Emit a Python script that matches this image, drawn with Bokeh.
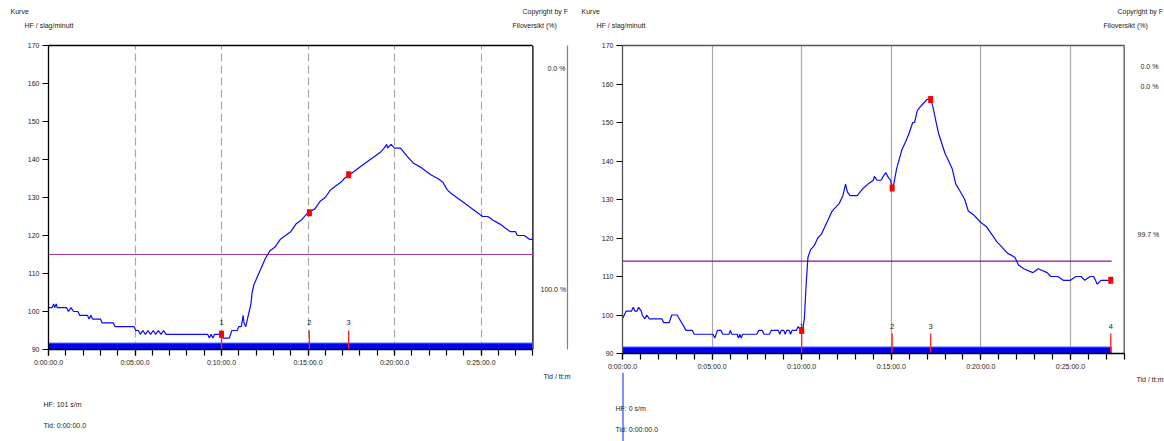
from bokeh.plotting import figure
from bokeh.models import Range1d, FixedTicker, LinearAxis, ColumnDataSource
from bokeh.layouts import row, column
from bokeh.core.properties import value
from bokeh.embed import file_html
from bokeh.resources import INLINE

# ---------------- data ----------------
left_t = [0.0, 0.2, 0.3, 0.35, 0.45, 0.5, 1.05, 1.15, 1.3, 1.45, 1.7, 1.8, 2.25, 2.35, 2.45, 2.55,
          3.0, 3.1, 3.75, 3.85, 4.95, 5.05, 5.2, 5.3, 5.45, 5.6, 5.75, 5.9, 6.05, 6.2, 6.35, 6.5,
          6.65, 6.8, 7.0, 9.2, 9.3, 9.4, 9.5, 9.6, 9.95, 10.1, 10.45, 10.6, 10.9, 11.0, 11.15,
          11.25, 11.3, 11.4, 11.5, 11.6, 11.7, 11.77, 11.87, 12.06, 12.25, 12.54, 12.8, 13.1,
          13.4, 13.7, 14.0, 14.3, 14.6, 15.0, 15.4, 15.7, 16.0, 16.3, 16.6, 16.9, 17.1, 17.4,
          17.7, 18.0, 18.3, 18.6, 18.9, 19.2, 19.4, 19.55, 19.6, 19.8, 20.0, 20.35, 20.7, 21.1,
          21.5, 21.8, 22.1, 22.5, 22.8, 23.05, 23.3, 23.6, 23.9, 24.2, 24.5, 24.8, 25.1, 25.4,
          25.7, 26.1, 26.4, 26.7, 27.0, 27.1, 27.5, 27.8, 28.0]
left_hr = [101, 101, 102, 101, 102, 101, 101, 100, 101, 100, 100, 99, 99, 98, 99, 98,
           98, 97, 97, 96, 96, 95, 95, 94, 95, 94, 95, 94, 95, 94, 95, 94,
           95, 94, 94, 94, 93, 94, 93, 94, 94, 93, 93, 95, 95, 96, 96,
           99, 97, 96, 98, 100, 102, 105, 107, 109, 111, 114, 116, 117,
           119, 120, 121, 123, 124, 126, 127, 129, 130, 132, 133, 134, 135, 136,
           137, 138, 139, 140, 141, 142, 143, 144, 143, 144, 143, 143, 141, 139,
           138, 137, 136, 135, 134, 132, 131, 130, 129, 128, 127, 126, 125, 125,
           124, 123, 122, 121, 121, 120, 120, 119, 119]
left_marker_t = [10.0, 15.08, 17.35]
left_marker_hr = [94, 126, 136]
left_marker_lbl = ["1", "2", "3"]
left_limit = [115]
left_end = [28.0]
left_zone_text = ["0.0 %", "100.0 %"]
left_hf_text = "HF: 101 s/m"

right_t = [0.0, 0.1, 0.2, 0.5, 0.6, 0.7, 0.8, 0.9, 1.05, 1.1, 1.25, 1.35, 1.5, 2.2, 2.3, 2.6,
           2.75, 3.05, 3.3, 3.55, 3.9, 4.0, 5.05, 5.15, 5.3, 5.5, 5.6, 5.95, 6.02, 6.1, 6.4,
           6.47, 6.55, 6.62, 6.7, 7.5, 7.6, 7.8, 7.9, 8.2, 8.3, 8.7, 8.78, 8.86, 9.0, 9.08,
           9.16, 9.3, 9.38, 9.46, 9.7, 9.8, 9.95, 10.05, 10.15, 10.25, 10.35, 10.5, 10.7, 10.9,
           11.1, 11.3, 11.5, 11.7, 11.9, 12.1, 12.3, 12.45, 12.55, 12.7, 13.0, 13.1, 13.45,
           13.7, 14.0, 14.06, 14.2, 14.43, 14.55, 14.7, 14.8, 14.96, 15.05, 15.14, 15.3, 15.6,
           15.8, 15.98, 16.2, 16.3, 16.45, 16.6, 16.8, 17.0, 17.2, 17.33, 17.46, 17.65, 18.0,
           18.4, 18.6, 18.86, 19.1, 19.3, 19.6, 19.8, 20.0, 20.3, 20.6, 20.9, 21.1, 21.5, 21.9,
           22.1, 22.4, 22.9, 23.2, 23.7, 23.9, 24.3, 24.6, 25.0, 25.3, 25.6, 25.8, 26.1, 26.3,
           26.5, 26.7, 27.0, 27.2]
right_hr = [99, 100, 101, 101, 102, 101, 101, 102, 101, 100, 99, 100, 99, 99, 98, 98,
            100, 100, 98, 96, 96, 95, 95, 94, 96, 96, 95, 95, 96, 95, 95,
            94, 95, 94, 95, 95, 96, 96, 95, 95, 96, 96, 95, 96, 96, 95,
            96, 96, 95, 96, 96, 97, 96, 96, 99, 108, 115, 117, 118, 120,
            121, 123, 125, 127, 128, 129, 131, 134, 132, 131, 131, 131, 133,
            134, 135, 136, 135, 135, 136, 137, 136, 135, 133, 134, 138, 143,
            145, 147, 150, 150, 153, 154, 155, 156, 156, 154, 151, 147, 142,
            138, 134, 132, 130, 127, 126, 125, 124, 123, 121, 119, 118, 116, 115,
            113, 112, 111, 112, 111, 110, 110, 109, 109, 110, 110, 109, 110, 110,
            108, 109, 109, 109]
right_marker_t = [10.0, 15.05, 17.2, 27.25]
right_marker_hr = [96, 133, 156, 109]
right_marker_lbl = ["1", "2", "3", "4"]
right_limit = [114]
right_end = [27.3]
right_zone_text = ["0.0 %", "0.0 %", "99.7 %"]
right_hf_text = "HF: 0 s/m"

y_ticks = [90, 100, 110, 120, 130, 140, 150, 160, 170]
x_ticks = [0, 5, 10, 15, 20, 25]
x_tick_labels = ["0:00:00.0", "0:05:00.0", "0:10:00.0", "0:15:00.0", "0:20:00.0", "0:25:00.0"]
x_minor_ticks = list(range(0, 29))
grid_ticks = [5, 10, 15, 20, 25]
axis_end = 28

FONT = "Liberation Sans"
TXT = "#222222"
W, H = 1164, 441
HEADER_H = 38
MAIN_END = 372


def text_strip(y_top, y_bottom, texts, extra_lines=()):
    """Full-width strip in page-pixel coordinates holding the texts around the charts."""
    h = y_bottom - y_top
    s = figure(frame_width=W, frame_height=h, min_border=0,
               x_range=Range1d(0, W), y_range=Range1d(y_bottom, y_top),
               x_axis_location=None, y_axis_location=None,
               toolbar_location=None, output_backend="svg")
    s.outline_line_color = None
    s.xgrid.visible = False
    s.ygrid.visible = False
    s.border_fill_color = "white"
    for (x0, y0, x1, y1, col, w) in extra_lines:
        s.segment(x0=[x0], y0=[y0], x1=[x1], y1=[y1], line_color=col, line_width=w)
    src = ColumnDataSource(dict(x=[t[0] for t in texts], y=[t[1] for t in texts],
                                txt=[t[2] for t in texts]))
    s.text(x="x", y="y", text="txt", source=src, text_font=value(FONT), text_font_size="7px",
           text_color=TXT, text_align="left", text_baseline="middle")
    return s


def make_panel(cfg):
    off = cfg["offset"]
    fl, fr, ft, fb = cfg["frame"]          # absolute page px of the frame
    xmax = cfg["xmax"]
    fw, fh = fr - fl, fb - ft
    ppv = fh / 80.0

    def dy(py):
        return 90 + (fb - py) / ppv

    p = figure(frame_width=fw, frame_height=fh,
               min_border_left=fl - off, min_border_right=cfg["width"] - (fr - off),
               min_border_top=ft - HEADER_H, min_border_bottom=MAIN_END - fb,
               x_range=Range1d(0, xmax), y_range=Range1d(90, 170),
               toolbar_location=None, output_backend="svg")
    p.outline_line_color = None
    p.background_fill_color = "white"
    p.border_fill_color = "white"

    xa = p.xaxis[0]
    xa.ticker = FixedTicker(ticks=x_ticks, minor_ticks=x_minor_ticks)
    xa.major_label_overrides = {t: l for t, l in zip(x_ticks, x_tick_labels)}
    xa.bounds = (0, axis_end)
    xa.major_tick_out = 6
    xa.major_tick_in = 0
    xa.minor_tick_out = 6
    xa.minor_tick_in = 0
    xa.major_label_standoff = 3
    xa.major_label_text_font = FONT
    xa.major_label_text_font_size = "7px"
    xa.major_label_text_color = TXT
    xa.axis_line_width = 1.3
    xa.major_tick_line_width = 1.2
    xa.minor_tick_line_width = 1.2

    ya = p.yaxis[0]
    ya.ticker = FixedTicker(ticks=y_ticks, minor_ticks=[])
    ya.bounds = (90, 170)
    ya.major_tick_out = 6
    ya.major_tick_in = 0
    ya.major_label_standoff = 3
    ya.major_label_text_font = FONT
    ya.major_label_text_font_size = "7px"
    ya.major_label_text_color = TXT
    ya.axis_line_width = 1.3
    ya.axis_line_color = cfg["frame_color"]

    top = LinearAxis(ticker=FixedTicker(ticks=[]), bounds=(0, axis_end),
                     axis_line_color=cfg["frame_color"], axis_line_width=1.3,
                     major_tick_out=0, major_tick_in=0, major_label_standoff=0,
                     major_tick_line_color=None, minor_tick_line_color=None,
                     major_label_text_font_size="0px")
    p.add_layout(top, "above")
    if cfg["strip_line"]:
        rax = LinearAxis(ticker=FixedTicker(ticks=[]), axis_line_color="#808080",
                         axis_line_width=1.2, major_tick_out=0, major_tick_in=0,
                         major_label_standoff=0, major_tick_line_color=None,
                         minor_tick_line_color=None, major_label_text_font_size="0px")
        p.add_layout(rax, "right")

    p.ygrid.visible = False
    p.xgrid.ticker = FixedTicker(ticks=grid_ticks)
    p.xgrid.grid_line_color = "#a8a8a8"
    p.xgrid.grid_line_width = 1.2
    p.xgrid.grid_line_dash = cfg["grid_dash"]

    p.segment(x0=[axis_end], y0=[90], x1=[axis_end], y1=[170],
              line_color=cfg["frame_color"], line_width=1.3)

    p.quad(left=[0], right=cfg["end"], bottom=[90], top=[91.7],
           fill_color="#0000f2", line_color="#5a6bff", line_width=1)
    p.segment(x0=[0], y0=cfg["limit"], x1=cfg["end"], y1=cfg["limit"],
              line_color=cfg["limit_color"], line_width=1.2)
    p.line(cfg["t"], cfg["hr"], line_color="#0a0aff", line_width=1.2)

    ms = ColumnDataSource(dict(t=cfg["mt"], hr=cfg["mhr"], lbl=cfg["mlbl"],
                               y0=[90] * len(cfg["mt"]), y1=[dy(cfg["tick_top"])] * len(cfg["mt"]),
                               ly=[dy(cfg["lbl_y"])] * len(cfg["mt"])))
    p.segment(x0="t", y0="y0", x1="t", y1="y1", source=ms, line_color="#ff2020", line_width=1.3)
    p.text(x="t", y="ly", text="lbl", source=ms, text_font=value(FONT), text_font_size="7.5px",
           text_color=TXT, text_align="center", text_baseline="middle")
    p.rect(x="t", y="hr", width=5, height=7, width_units="screen", height_units="screen",
           source=ms, fill_color="#ff0000", line_color=None)

    zsrc = ColumnDataSource(dict(x=[(px - fl) / (fw / xmax) for px, _, _ in cfg["zone"]],
                                 y=[dy(py) for _, py, _ in cfg["zone"]],
                                 txt=[t for _, _, t in cfg["zone"]]))
    p.text(x="x", y="y", text="txt", source=zsrc, text_font=value(FONT), text_font_size="7px",
           text_color=TXT, text_align="left", text_baseline="middle")
    return p


left_cfg = dict(offset=0, width=575, frame=(48, 567, 45, 349), xmax=30.0,
                frame_color="#000000", strip_line=True, grid_dash="8 4",
                end=left_end, limit=left_limit, limit_color="#a83aa8",
                t=left_t, hr=left_hr, mt=left_marker_t, mhr=left_marker_hr, mlbl=left_marker_lbl,
                tick_top=330, lbl_y=322,
                zone=[(547, 68, left_zone_text[0]), (540, 289, left_zone_text[1])])

right_cfg = dict(offset=575, width=589, frame=(622, 1164, 45, 353), xmax=30.25,
                 frame_color="#555555", strip_line=False, grid_dash="solid",
                 end=right_end, limit=right_limit, limit_color="#8e108e",
                 t=right_t, hr=right_hr, mt=right_marker_t, mhr=right_marker_hr, mlbl=right_marker_lbl,
                 tick_top=333, lbl_y=326,
                 zone=[(1140, 66, right_zone_text[0]), (1140, 86, right_zone_text[1]),
                       (1137, 234, right_zone_text[2])])

head = text_strip(0, HEADER_H, [
    (10, 11, "Kurve"), (24, 25, "HF / slag/minutt"),
    (522, 11, "Copyright by F"), (512, 25, "Filoversikt (%)"),
    (581, 11, "Kurve"), (596, 25, "HF / slag/minutt"),
    (1117, 11, "Copyright by F"), (1103, 25, "Filoversikt (%)")])

foot = text_strip(MAIN_END, H, [
    (543, 376, "Tid / tt:m"), (43, 404, left_hf_text), (43, 425, "Tid: 0:00:00.0"),
    (1136, 379, "Tid / tt:m"), (615, 408, right_hf_text), (615, 429, "Tid: 0:00:00.0")],
    extra_lines=[(622.5, MAIN_END, 622.5, H, "#6f86ff", 1.8)])

layout = column(head, row(make_panel(left_cfg), make_panel(right_cfg), spacing=0), foot, spacing=0)

open("out.html", "w").write(file_html(layout, INLINE))
